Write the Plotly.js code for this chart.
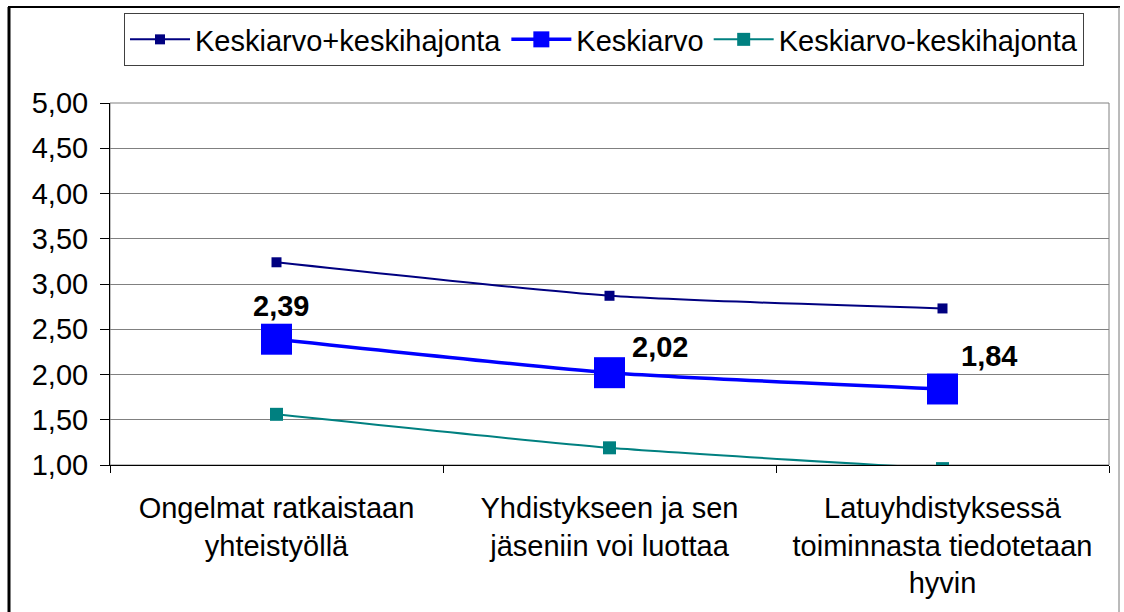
<!DOCTYPE html>
<html>
<head>
<meta charset="utf-8">
<script src="https://cdn.plot.ly/plotly-3.0.1.min.js"></script>
<style>
  html, body { margin: 0; padding: 0; background: #ffffff; }
  #chart { width: 1124px; height: 612px; }
</style>
</head>
<body>
<div id="chart"></div>
<script>
// ---- data ----
var categories = [
  "Ongelmat ratkaistaan<br>yhteistyöllä",
  "Yhdistykseen ja sen<br>jäseniin voi luottaa",
  "Latuyhdistyksessä<br>toiminnasta tiedotetaan<br>hyvin"
];
var seriesNames = ["Keskiarvo+keskihajonta", "Keskiarvo", "Keskiarvo-keskihajonta"];
var upperValues = [3.24, 2.87, 2.73];
var meanValues  = [2.39, 2.02, 1.84];
var lowerValues = [1.56, 1.19, 0.96];
var yTickValues = [1.0, 1.5, 2.0, 2.5, 3.0, 3.5, 4.0, 4.5, 5.0];

// ---- layout geometry ----
var W = 1124, H = 612;
var M = { l: 110, r: 15, t: 103, b: 147 };
var pw = W - M.l - M.r, ph = H - M.t - M.b;
function px2x(p) { return (p - M.l) / pw; }
function px2y(p) { return (H - M.b - p) / ph; }

var FONT = "Liberation Sans, Arial, sans-serif";
var FS = 29;

var traces = [
  {
    x: categories, y: upperValues, name: seriesNames[0], type: "scatter", mode: "lines+markers",
    line: { color: "#000080", width: 2, shape: "spline", smoothing: 0.6 },
    marker: { symbol: "square", size: 10, color: "#000080" }
  },
  {
    x: categories, y: meanValues, name: seriesNames[1], type: "scatter", mode: "lines+markers",
    line: { color: "#0000FF", width: 3.5, shape: "spline", smoothing: 0.6 },
    marker: { symbol: "square", size: 31, color: "#0000FF" }
  },
  {
    x: categories, y: lowerValues, name: seriesNames[2], type: "scatter", mode: "lines+markers",
    line: { color: "#008080", width: 2, shape: "spline", smoothing: 0.6 },
    marker: { symbol: "square", size: 13, color: "#008080" }
  }
];

// data labels for mean series
var labelShiftX = [4, 50, 46];
var labelShiftY = [33, 26, 33];
var annotations = meanValues.map(function (v, i) {
  return {
    x: categories[i], y: v, xref: "x", yref: "y",
    text: "<b>" + v.toFixed(2).replace(".", ",") + "</b>",
    showarrow: false, xanchor: "center", yanchor: "middle",
    xshift: labelShiftX[i], yshift: labelShiftY[i],
    font: { family: FONT, size: FS, color: "#000000" }
  };
});

var shapes = [
  // plot area border (gray)
  { type: "rect", xref: "paper", yref: "paper", x0: 0, x1: 1, y0: 0, y1: 1,
    line: { color: "#808080", width: 1 }, layer: "below" },
  // outer chart frame
  { type: "line", xref: "paper", yref: "paper", x0: px2x(9), x1: px2x(9), y0: px2y(7), y1: px2y(640),
    line: { color: "#000000", width: 3 } },
  { type: "line", xref: "paper", yref: "paper", x0: px2x(8), x1: px2x(1120), y0: px2y(7), y1: px2y(7),
    line: { color: "#000000", width: 2 } },
  { type: "line", xref: "paper", yref: "paper", x0: px2x(1119), x1: px2x(1119), y0: px2y(7), y1: px2y(640),
    line: { color: "#777777", width: 1 } }
];

var layout = {
  width: W, height: H,
  margin: M,
  paper_bgcolor: "#ffffff", plot_bgcolor: "#ffffff",
  separators: ", ",
  font: { family: FONT, size: FS, color: "#000000" },
  showlegend: true,
  legend: {
    orientation: "h", x: px2x(124), xanchor: "left", y: px2y(13), yanchor: "top",
    bordercolor: "#404040", borderwidth: 1, bgcolor: "#ffffff",
    font: { family: FONT, size: FS, color: "#000000" },
    itemwidth: 60, tracegroupgap: 0
  },
  xaxis: {
    type: "category", range: [-0.5, 2.5],
    showgrid: false, showline: true, linecolor: "#000000", linewidth: 1,
    ticks: "outside", tickson: "boundaries", ticklen: 7, tickcolor: "#000000",
    tickfont: { family: FONT, size: FS, color: "#000000" },
    ticklabelstandoff: 17,
    zeroline: false, fixedrange: true
  },
  yaxis: {
    range: [1, 5], tickvals: yTickValues, tickformat: ".2f",
    showgrid: true, gridcolor: "#808080", gridwidth: 1,
    showline: true, linecolor: "#000000", linewidth: 1,
    ticks: "outside", ticklen: 9, tickcolor: "#000000",
    tickfont: { family: FONT, size: FS, color: "#000000" },
    ticklabelstandoff: 6,
    zeroline: false, fixedrange: true
  },
  annotations: annotations,
  shapes: shapes
};

Plotly.newPlot("chart", traces, layout, { displayModeBar: false, staticPlot: true });
</script>
</body>
</html>
